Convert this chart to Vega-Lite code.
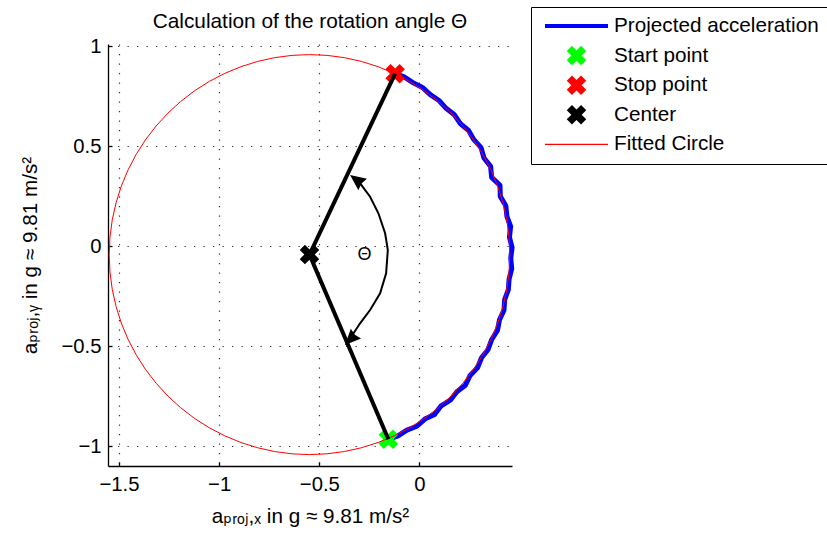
{
  "$schema": "https://vega.github.io/schema/vega-lite/v6.json",
  "width": 404,
  "height": 422,
  "autosize": {"type": "none"},
  "padding": {"left": 108, "top": 44, "right": 315, "bottom": 77},
  "background": "white",
  "title": {"text": "Calculation of the rotation angle Θ", "fontSize": 20.8, "fontWeight": "normal", "font": "Liberation Sans", "color": "black", "frame": "group", "anchor": "middle", "offset": -42.5, "baseline": "alphabetic"},
  "config": {
    "view": {"stroke": null},
    "font": "Liberation Sans",
    "axis": {
      "domainColor": "black", "domainWidth": 1.3,
      "tickColor": "black", "tickSize": -4, "tickWidth": 1.3,
      "grid": true, "gridColor": "#333333", "gridDash": [1.3, 8.2], "gridWidth": 1.2,
      "labelFont": "Liberation Sans", "labelFontSize": 20.3, "labelColor": "black",
      "titleFont": "Liberation Sans, DejaVu Sans", "titleFontSize": 20.7, "titleFontWeight": "normal", "titleColor": "black"
    },
    "axisX": {"labelPadding": 12.5, "titlePadding": 12},
    "axisY": {"labelPadding": 11, "titlePadding": 20}
  },
  "datasets": {
    "accel": [
      {"i":0,"x":-0.155,"y":-0.9665},{"i":1,"x":-0.1071,"y":-0.949},{"i":2,"x":-0.0627,"y":-0.9202},
      {"i":3,"x":-0.0127,"y":-0.9012},{"i":4,"x":0.0269,"y":-0.8655},{"i":5,"x":0.0753,"y":-0.842},
      {"i":6,"x":0.1084,"y":-0.7992},{"i":7,"x":0.154,"y":-0.7709},{"i":8,"x":0.1868,"y":-0.7291},
      {"i":9,"x":0.2293,"y":-0.6961},{"i":10,"x":0.2528,"y":-0.6472},{"i":11,"x":0.2899,"y":-0.6089},
      {"i":12,"x":0.3099,"y":-0.559},{"i":13,"x":0.3427,"y":-0.5172},{"i":14,"x":0.3609,"y":-0.4673},
      {"i":15,"x":0.3893,"y":-0.4221},{"i":16,"x":0.3993,"y":-0.3696},{"i":17,"x":0.4219,"y":-0.3214},
      {"i":18,"x":0.4254,"y":-0.268},{"i":19,"x":0.4437,"y":-0.218},{"i":20,"x":0.4475,"y":-0.1654},
      {"i":21,"x":0.4606,"y":-0.1136},{"i":22,"x":0.4558,"y":-0.0606},{"i":23,"x":0.4624,"y":-0.0077},
      {"i":24,"x":0.4492,"y":0.0444},{"i":25,"x":0.4552,"y":0.0981},{"i":26,"x":0.4365,"y":0.1486},
      {"i":27,"x":0.431,"y":0.2013},{"i":28,"x":0.4035,"y":0.2482},{"i":29,"x":0.402,"y":0.3031},
      {"i":30,"x":0.3605,"y":0.343},{"i":31,"x":0.3552,"y":0.398},{"i":32,"x":0.3221,"y":0.4399},
      {"i":33,"x":0.3075,"y":0.4922},{"i":34,"x":0.2718,"y":0.5317},{"i":35,"x":0.2453,"y":0.5776},
      {"i":36,"x":0.2042,"y":0.6118},{"i":37,"x":0.1746,"y":0.6559},{"i":38,"x":0.133,"y":0.6884},
      {"i":39,"x":0.0977,"y":0.7276},{"i":40,"x":0.054,"y":0.7572},{"i":41,"x":0.0147,"y":0.7926},
      {"i":42,"x":-0.0325,"y":0.8168},{"i":43,"x":-0.0767,"y":0.8452},{"i":44,"x":-0.1215,"y":0.8615}
    ],
    "markers": [
      {"series":"Start point","x":-0.155,"y":-0.9665},
      {"series":"Stop point","x":-0.1215,"y":0.8615},
      {"series":"Center","x":-0.549,"y":-0.043}
    ],
    "circle": [
      {"a":0,"x":0.451,"y":-0.043},{"a":5,"x":0.4472,"y":0.0442},{"a":10,"x":0.4358,"y":0.1306},
      {"a":15,"x":0.4169,"y":0.2158},{"a":20,"x":0.3907,"y":0.299},{"a":25,"x":0.3573,"y":0.3796},
      {"a":30,"x":0.317,"y":0.457},{"a":35,"x":0.2702,"y":0.5306},{"a":40,"x":0.217,"y":0.5998},
      {"a":45,"x":0.1581,"y":0.6641},{"a":50,"x":0.0938,"y":0.723},{"a":55,"x":0.0246,"y":0.7762},
      {"a":60,"x":-0.049,"y":0.823},{"a":65,"x":-0.1264,"y":0.8633},{"a":70,"x":-0.207,"y":0.8967},
      {"a":75,"x":-0.2902,"y":0.9229},{"a":80,"x":-0.3754,"y":0.9418},{"a":85,"x":-0.4618,"y":0.9532},
      {"a":90,"x":-0.549,"y":0.957},{"a":95,"x":-0.6362,"y":0.9532},{"a":100,"x":-0.7226,"y":0.9418},
      {"a":105,"x":-0.8078,"y":0.9229},{"a":110,"x":-0.891,"y":0.8967},{"a":115,"x":-0.9716,"y":0.8633},
      {"a":120,"x":-1.049,"y":0.823},{"a":125,"x":-1.1226,"y":0.7762},{"a":130,"x":-1.1918,"y":0.723},
      {"a":135,"x":-1.2561,"y":0.6641},{"a":140,"x":-1.315,"y":0.5998},{"a":145,"x":-1.3682,"y":0.5306},
      {"a":150,"x":-1.415,"y":0.457},{"a":155,"x":-1.4553,"y":0.3796},{"a":160,"x":-1.4887,"y":0.299},
      {"a":165,"x":-1.5149,"y":0.2158},{"a":170,"x":-1.5338,"y":0.1306},{"a":175,"x":-1.5452,"y":0.0442},
      {"a":180,"x":-1.549,"y":-0.043},{"a":185,"x":-1.5452,"y":-0.1302},{"a":190,"x":-1.5338,"y":-0.2166},
      {"a":195,"x":-1.5149,"y":-0.3018},{"a":200,"x":-1.4887,"y":-0.385},{"a":205,"x":-1.4553,"y":-0.4656},
      {"a":210,"x":-1.415,"y":-0.543},{"a":215,"x":-1.3682,"y":-0.6166},{"a":220,"x":-1.315,"y":-0.6858},
      {"a":225,"x":-1.2561,"y":-0.7501},{"a":230,"x":-1.1918,"y":-0.809},{"a":235,"x":-1.1226,"y":-0.8622},
      {"a":240,"x":-1.049,"y":-0.909},{"a":245,"x":-0.9716,"y":-0.9493},{"a":250,"x":-0.891,"y":-0.9827},
      {"a":255,"x":-0.8078,"y":-1.0089},{"a":260,"x":-0.7226,"y":-1.0278},{"a":265,"x":-0.6362,"y":-1.0392},
      {"a":270,"x":-0.549,"y":-1.043},{"a":275,"x":-0.4618,"y":-1.0392},{"a":280,"x":-0.3754,"y":-1.0278},
      {"a":285,"x":-0.2902,"y":-1.0089},{"a":290,"x":-0.207,"y":-0.9827},{"a":295,"x":-0.1264,"y":-0.9493},
      {"a":300,"x":-0.049,"y":-0.909},{"a":305,"x":0.0246,"y":-0.8622},{"a":310,"x":0.0938,"y":-0.809},
      {"a":315,"x":0.1581,"y":-0.7501},{"a":320,"x":0.217,"y":-0.6858},{"a":325,"x":0.2702,"y":-0.6166},
      {"a":330,"x":0.317,"y":-0.543},{"a":335,"x":0.3573,"y":-0.4656},{"a":340,"x":0.3907,"y":-0.385},
      {"a":345,"x":0.4169,"y":-0.3018},{"a":350,"x":0.4358,"y":-0.2166},{"a":355,"x":0.4472,"y":-0.1302},
      {"a":360,"x":0.451,"y":-0.043}
    ],
    "spokes": [
      {"x":-0.549,"y":-0.043,"x2":-0.1215,"y2":0.8615},
      {"x":-0.549,"y":-0.043,"x2":-0.155,"y2":-0.9665}
    ],
    "arc": [
      {"i":0,"x":-0.3265,"y":0.34},{"i":1,"x":-0.2965,"y":0.3135},{"i":2,"x":-0.2465,"y":0.2465},
      {"i":3,"x":-0.205,"y":0.1635},{"i":4,"x":-0.1715,"y":0.0635},{"i":5,"x":-0.158,"y":-0.02},
      {"i":6,"x":-0.1665,"y":-0.1365},{"i":7,"x":-0.1965,"y":-0.2365},{"i":8,"x":-0.2465,"y":-0.32},
      {"i":9,"x":-0.2965,"y":-0.3865},{"i":10,"x":-0.325,"y":-0.43},{"i":11,"x":-0.3565,"y":-0.48}
    ],
    "tipUp": [{"x":-0.3465,"y":0.355}],
    "tipDown": [{"x":-0.372,"y":-0.495}],
    "label": [{"x":-0.2745,"y":-0.045,"text":"Θ"}]
  },
  "encoding": {
    "x": {"field": "x", "type": "quantitative",
      "scale": {"domain": [-1.555, 0.462], "nice": false, "zero": false},
      "axis": {"values": [-1.5, -1, -0.5, 0], "format": "~g", "title": "aₚᵣₒⱼ,ₓ  in g ≈ 9.81 m/s²"}},
    "y": {"field": "y", "type": "quantitative",
      "scale": {"domain": [-1.1, 1.01], "nice": false, "zero": false},
      "axis": {"values": [-1, -0.5, 0, 0.5, 1], "format": "~g", "title": "aₚᵣₒⱼ,ᵧ  in g ≈ 9.81 m/s²"}}
  },
  "layer": [
    {
      "data": {"name": "accel"},
      "mark": {"type": "line", "strokeWidth": 5, "strokeJoin": "round", "strokeCap": "round", "color": "#0000ff"},
      "encoding": {"order": {"field": "i", "type": "quantitative"}}
    },
    {
      "data": {"name": "markers"},
      "mark": {"type": "point", "filled": true, "size": 3969, "opacity": 1, "strokeWidth": 0},
      "encoding": {
        "color": {"field": "series", "type": "nominal",
          "scale": {"domain": ["Projected acceleration", "Start point", "Stop point", "Center", "Fitted Circle"], "range": ["#0000ff", "#00ff00", "#ff0000", "#000000", "#ff0000"]},
          "legend": {"orient": "none", "legendX": 423, "legendY": -37, "title": null,
            "strokeColor": "black", "fillColor": "white", "padding": 8,
            "symbolOffset": 6, "labelOffset": 6, "rowPadding": 7.6, "clipHeight": 22,
            "symbolSize": 3969, "symbolStrokeWidth": 0, "symbolOpacity": 1,
            "labelFont": "Liberation Sans", "labelFontSize": 20.7, "labelColor": "black", "labelLimit": 400}},
        "shape": {"field": "series", "type": "nominal",
          "scale": {"domain": ["Projected acceleration", "Start point", "Stop point", "Center", "Fitted Circle"],
            "range": [
              "M-1,-0.0635H1V0.0635H-1Z",
              "M-0.1445,-0.3095L0,-0.165L0.1445,-0.3095L0.3095,-0.1445L0.165,0L0.3095,0.1445L0.1445,0.3095L0,0.165L-0.1445,0.3095L-0.3095,0.1445L-0.165,0L-0.3095,-0.1445Z",
              "M-0.1445,-0.3095L0,-0.165L0.1445,-0.3095L0.3095,-0.1445L0.165,0L0.3095,0.1445L0.1445,0.3095L0,0.165L-0.1445,0.3095L-0.3095,0.1445L-0.165,0L-0.3095,-0.1445Z",
              "M-0.1445,-0.3095L0,-0.165L0.1445,-0.3095L0.3095,-0.1445L0.165,0L0.3095,0.1445L0.1445,0.3095L0,0.165L-0.1445,0.3095L-0.3095,0.1445L-0.165,0L-0.3095,-0.1445Z",
              "M-1,-0.019H1V0.019H-1Z"
            ]}}
      }
    },
    {
      "data": {"name": "circle"},
      "mark": {"type": "line", "strokeWidth": 1, "color": "#ff0000"},
      "encoding": {"order": {"field": "a", "type": "quantitative"}}
    },
    {
      "data": {"name": "spokes"},
      "mark": {"type": "rule", "strokeWidth": 4, "color": "black"},
      "encoding": {
        "x2": {"field": "x2"},
        "y2": {"field": "y2"}
      }
    },
    {
      "data": {"name": "arc"},
      "mark": {"type": "line", "strokeWidth": 2, "color": "black"},
      "encoding": {"order": {"field": "i", "type": "quantitative"}}
    },
    {
      "data": {"name": "tipUp"},
      "mark": {"type": "point", "filled": true, "opacity": 1, "color": "black", "strokeWidth": 0, "size": 1000, "angle": -53, "shape": "M0,0L0.45,1L0,0.9L-0.45,1Z"},
      "encoding": {}
    },
    {
      "data": {"name": "tipDown"},
      "mark": {"type": "point", "filled": true, "opacity": 1, "color": "black", "strokeWidth": 0, "size": 1000, "angle": -136, "shape": "M0,0L0.45,1L0,0.9L-0.45,1Z"},
      "encoding": {}
    },
    {
      "data": {"name": "label"},
      "mark": {"type": "text", "fontSize": 18, "font": "Liberation Sans", "color": "black", "align": "center", "baseline": "middle"},
      "encoding": {"text": {"field": "text"}}
    }
  ]
}
